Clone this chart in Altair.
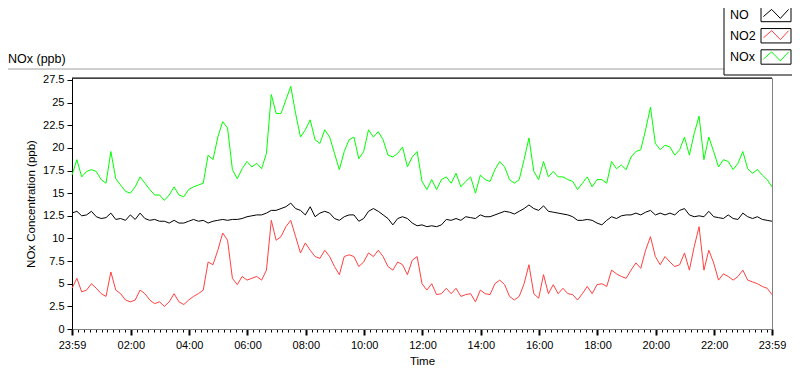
import altair as alt
import pandas as pd

FONT = "Liberation Sans"

# minutes after 23:59 of the previous day, one reading every 10 minutes
minutes_after_2359 = list(range(0, 1441, 10))

no_ppb = [
    12.8, 13.0, 12.5, 12.6, 13.0, 12.4, 12.2, 12.3, 12.8, 12.1, 12.2, 12.0, 12.6, 12.1, 12.8,
    12.2, 12.0, 12.1, 11.9, 11.9, 11.7, 12.0, 11.7, 11.7, 11.9, 12.1, 11.9, 12.0, 11.7,
    11.9, 12.0, 12.1, 12.0, 12.1, 12.1, 12.2, 12.4, 12.5, 12.6, 12.6, 12.8, 13.1, 13.1, 13.3,
    13.5, 13.9, 13.3, 13.1, 12.6, 13.5, 12.4, 12.8, 13.0, 12.8, 12.2, 12.0, 12.4, 12.6,
    12.6, 11.9, 12.2, 13.0, 13.3, 13.0, 12.6, 12.2, 11.5, 12.2, 12.4, 12.2, 11.7, 11.4, 11.5,
    11.3, 11.4, 11.3, 11.5, 12.1, 12.0, 12.2, 12.0, 12.4, 12.3, 12.2, 12.6, 12.4, 12.4,
    12.6, 12.8, 13.0, 12.9, 12.7, 13.0, 13.3, 13.7, 13.3, 13.1, 13.6, 13.0, 12.9, 12.8, 12.7,
    12.6, 12.4, 12.0, 12.0, 12.1, 12.0, 11.7, 11.5, 12.0, 12.4, 12.2, 12.5, 12.6, 12.6,
    12.8, 12.6, 12.9, 13.1, 12.6, 12.8, 12.6, 12.8, 12.6, 13.1, 13.3, 12.6, 12.4, 12.5, 12.4,
    13.0, 12.4, 12.3, 12.2, 12.6, 12.2, 12.1, 12.8, 12.4, 12.2, 12.4, 12.1, 12.0, 11.9,
]

no2_ppb = [
    4.5, 5.6, 4.1, 4.3, 5.0, 4.5, 3.9, 3.6, 6.3, 4.3, 3.9, 3.2, 3.0, 3.2, 4.3,
    3.9, 3.2, 2.8, 3.0, 2.5, 3.0, 3.9, 3.0, 2.7, 3.2, 3.6, 3.9, 4.3, 7.4,
    7.1, 8.7, 10.6, 9.8, 5.6, 4.9, 5.8, 5.4, 5.6, 5.8, 5.4, 6.5, 12.0, 9.8, 10.2,
    11.3, 12.0, 10.2, 8.4, 9.5, 8.7, 8.0, 7.8, 8.7, 8.0, 6.9, 6.0, 8.0, 8.2,
    8.0, 6.9, 7.4, 8.4, 8.0, 8.7, 8.0, 6.9, 6.5, 7.4, 7.1, 6.0, 7.6, 8.0, 5.0,
    4.3, 5.0, 3.8, 3.9, 4.5, 3.9, 4.5, 3.6, 3.8, 3.9, 3.0, 4.3, 3.9, 3.8,
    5.0, 5.4, 4.9, 3.6, 3.2, 3.6, 5.0, 7.1, 3.9, 3.4, 6.0, 3.9, 4.9, 3.9, 4.5,
    3.9, 3.8, 3.2, 3.9, 4.7, 3.9, 4.9, 5.0, 4.7, 6.5, 6.1, 5.8, 5.6, 6.5,
    7.3, 6.7, 8.7, 10.2, 8.0, 7.1, 8.0, 7.4, 6.9, 7.1, 8.4, 6.5, 9.1, 11.3, 6.5,
    8.7, 7.3, 5.4, 6.1, 5.8, 5.4, 5.8, 6.5, 5.4, 5.2, 5.0, 4.7, 4.5, 3.8,
]

nox_ppb = [
    17.0, 18.7, 16.8, 17.4, 17.6, 17.4, 16.5, 16.1, 19.6, 16.6, 15.9, 15.2, 15.0, 15.7, 16.8,
    16.1, 15.4, 14.8, 14.8, 14.2, 14.8, 15.7, 14.8, 14.6, 15.4, 15.7, 15.9, 16.1, 19.2,
    18.7, 21.2, 22.9, 22.2, 17.6, 16.6, 17.7, 18.5, 17.9, 18.3, 17.7, 19.4, 25.9, 23.8, 23.8,
    25.3, 26.8, 23.8, 21.2, 22.0, 23.1, 20.9, 20.5, 22.0, 21.2, 19.4, 17.6, 19.6, 20.9,
    21.2, 18.8, 19.6, 22.0, 21.2, 21.8, 20.9, 19.2, 19.0, 19.4, 20.1, 17.9, 19.0, 19.6, 16.3,
    15.4, 16.5, 15.4, 16.5, 16.8, 16.1, 17.2, 15.7, 16.3, 16.8, 15.0, 17.0, 16.5, 16.3,
    17.6, 18.5, 17.9, 16.5, 16.1, 16.5, 18.7, 21.1, 17.4, 16.5, 18.5, 16.8, 17.4, 16.8, 16.8,
    16.5, 16.3, 15.4, 16.1, 16.8, 15.7, 16.5, 16.5, 16.1, 18.5, 17.7, 18.1, 17.6, 19.0,
    19.6, 19.8, 22.0, 24.5, 20.5, 19.8, 20.3, 20.1, 19.2, 19.8, 21.2, 19.2, 21.6, 23.5, 18.7,
    21.2, 19.6, 17.9, 18.7, 18.5, 17.6, 18.3, 19.6, 17.7, 17.2, 17.6, 17.0, 16.5, 15.7,
]

series_names = ["NO", "NO2", "NOx"]
series_colors = ["#000000", "#ff4040", "#00ff00"]

major_tick_values = [-1, 120, 240, 360, 480, 600, 720, 840, 960, 1080, 1200, 1320, 1439]
major_tick_labels = ["23:59", "02:00", "04:00", "06:00", "08:00", "10:00", "12:00",
                     "14:00", "16:00", "18:00", "20:00", "22:00", "23:59"]
minor_tick_values = [m for m in range(12, 1439, 12) if m % 120 != 0]
y_tick_values = [0, 2.5, 5, 7.5, 10, 12.5, 15, 17.5, 20, 22.5, 25, 27.5]

rows = []
for name, vals in zip(series_names, [no_ppb, no2_ppb, nox_ppb]):
    for m, v in zip(minutes_after_2359, vals):
        rows.append({"time": m - 1, "value": v, "series": name})
df = pd.DataFrame(rows)

legend_df = pd.DataFrame({"series": series_names, "row": list(range(len(series_names)))})

label_expr = "''"
for v, lab in reversed(list(zip(major_tick_values, major_tick_labels))):
    label_expr = f"datum.value == {v} ? '{lab}' : ({label_expr})"
major_test = "indexof([" + ",".join(str(v) for v in major_tick_values) + "], datum.value) >= 0"

zigzag_path = "M-0.84,0.14L-0.29,-0.34L0.29,0.26L0.84,-0.34"
box_path = "M-1,-0.48H1V0.48H-1Z"

color_scale = alt.Scale(domain=series_names, range=series_colors)

lines = alt.Chart(df).mark_line(strokeWidth=1).encode(
    x=alt.X(
        "time:Q",
        scale=alt.Scale(domain=[-1, 1439], nice=False, zero=False),
        axis=alt.Axis(
            values=sorted(major_tick_values + minor_tick_values),
            labelExpr=label_expr,
            tickSize={"condition": {"test": major_test, "value": 6}, "value": 3},
            tickWidth={"condition": {"test": major_test, "value": 2}, "value": 1},
            labelPadding=4, titlePadding=5, labelFlush=False, labelOverlap=False,
            domainColor="#808080", grid=False,
        ),
        title="Time",
    ),
    y=alt.Y(
        "value:Q",
        scale=alt.Scale(domain=[0, 27.72], nice=False),
        axis=alt.Axis(values=y_tick_values, format=".1~f", tickSize=5, labelPadding=3,
                      titlePadding=6, grid=False),
        title="NOx Concentration (ppb)",
    ),
    color=alt.Color("series:N", scale=color_scale, legend=None),
)

deco_df = pd.DataFrame({"k": [0]})
panel_line = alt.Chart(deco_df).mark_rule(color="#a0a0a0", strokeWidth=1).encode(
    x=alt.value(-64), x2=alt.value(652), y=alt.value(-9)
)
top_frame = alt.Chart(deco_df).mark_rule(color="black", strokeWidth=1).encode(
    x=alt.value(0), x2=alt.value(700), y=alt.value(0)
)
panel_title = alt.Chart(deco_df).mark_text(
    text="NOx (ppb)", align="left", baseline="alphabetic", font=FONT, fontSize=12.5,
    color="black"
).encode(x=alt.value(-64), y=alt.value(-15))

# legend panel (top right)
legend_frame = alt.Chart(deco_df).mark_rect(fill="white", stroke="black", strokeWidth=1).encode(
    x=alt.value(652), x2=alt.value(740), y=alt.value(-90), y2=alt.value(-3)
)
row_y = alt.Y("row:Q", scale=alt.Scale(domain=[0, 2], range=[-63.5, -21]), axis=None)
legend_text = alt.Chart(legend_df).mark_text(
    align="left", baseline="middle", font=FONT, fontSize=12.5, color="black"
).encode(x=alt.value(658), y=row_y, text="series:N")
legend_box = alt.Chart(legend_df).mark_point(
    shape=box_path, size=900, stroke="black", strokeWidth=1, filled=False, opacity=1
).encode(x=alt.value(704), y=row_y)
legend_zig = alt.Chart(legend_df).mark_point(
    shape=zigzag_path, size=900, strokeWidth=1, filled=False, opacity=1
).encode(x=alt.value(704), y=row_y, stroke=alt.Stroke("series:N", scale=color_scale, legend=None))

chart = alt.layer(
    panel_line, lines, top_frame, panel_title, legend_frame, legend_text, legend_box, legend_zig
).resolve_scale(y="independent").properties(
    width=700,
    height=251,
    padding={"left": 64, "top": 70, "right": 20, "bottom": 40},
    autosize=alt.AutoSizeParams(type="none"),
    background="white",
).configure_view(
    stroke="#808080"
).configure_axis(
    grid=False, labelFont=FONT, labelFontSize=11, labelColor="black",
    titleFont=FONT, titleFontSize=11.5, titleFontWeight="normal", titleColor="black",
    domainColor="black", tickColor="black",
)

chart.save("out.html", embed_options={"renderer": "svg", "actions": False})
